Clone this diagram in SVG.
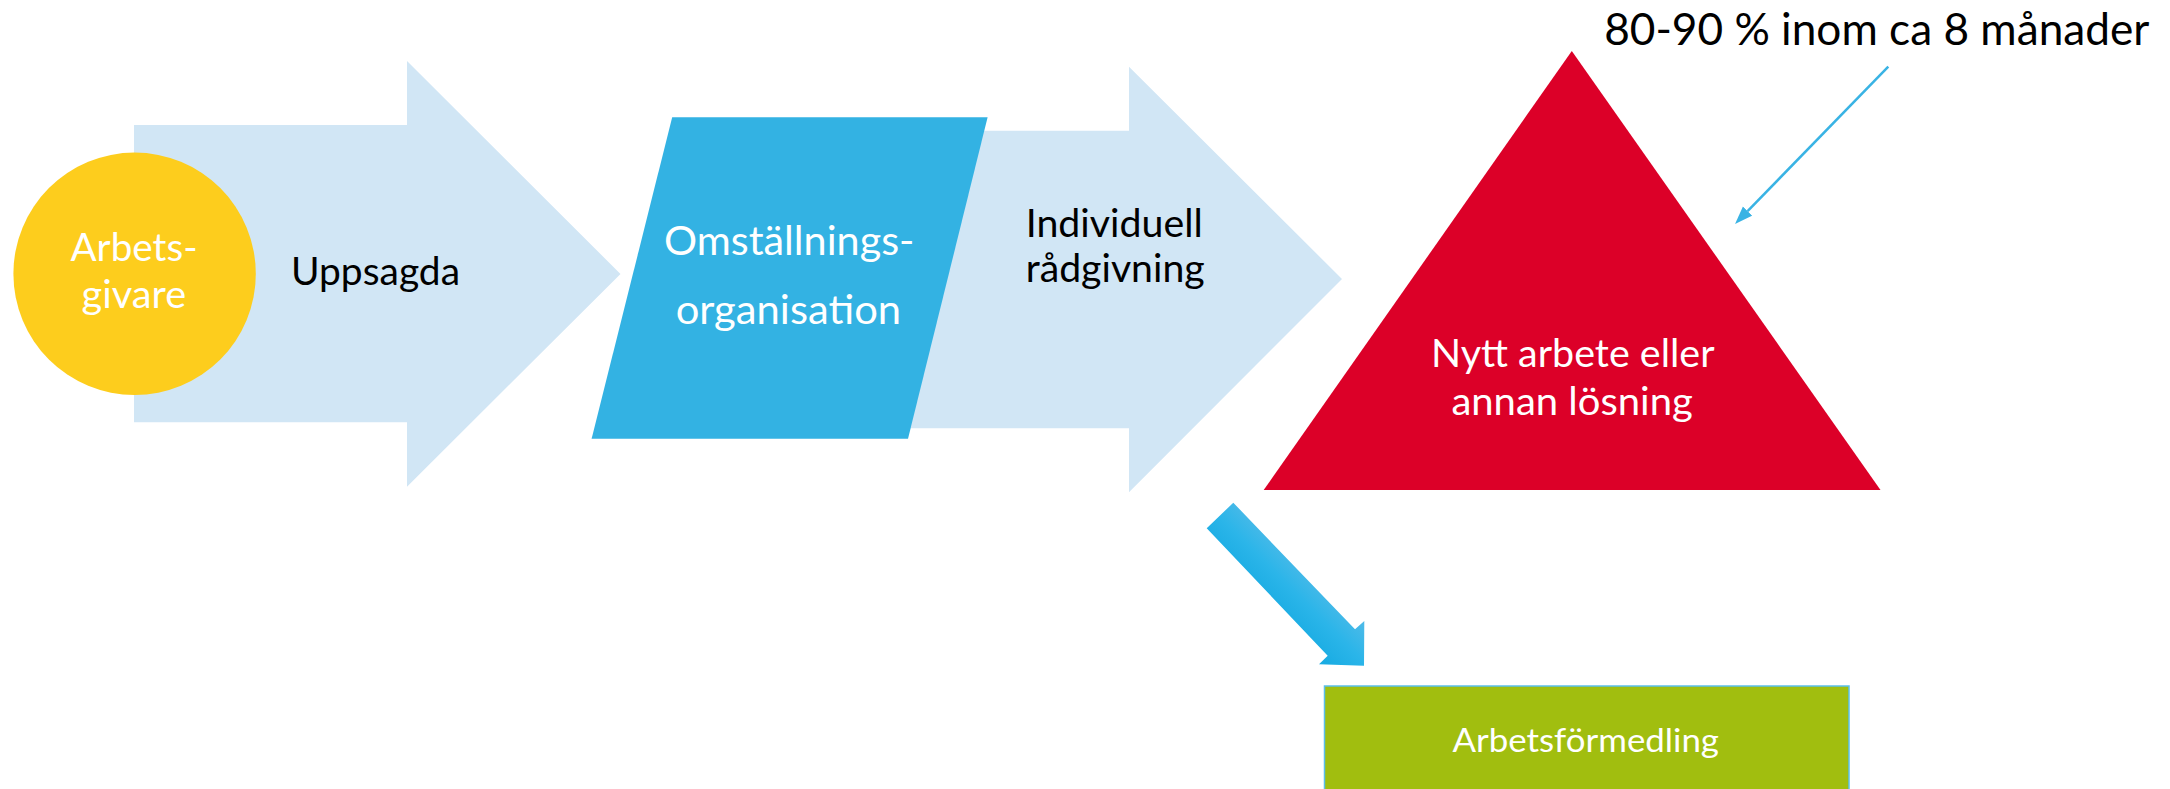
<svg xmlns="http://www.w3.org/2000/svg" width="2170" height="789" viewBox="0 0 2170 789">
<style>
.bigarrow{fill:#D1E6F5;}
.t{font-family:Lato,"Open Sans","Liberation Sans",sans-serif;}
.w{fill:#FFFFFF;}
.k{fill:#000000;}
</style>
<defs>
<linearGradient id="gblue" gradientUnits="userSpaceOnUse" x1="1262" y1="598" x2="1300" y2="560">
<stop offset="0" stop-color="#1AACE3"/>
<stop offset="0.5" stop-color="#2BB5E9"/>
<stop offset="1" stop-color="#4CBAE8"/>
</linearGradient>
<marker id="head" markerUnits="userSpaceOnUse" markerWidth="18" markerHeight="14" refX="0" refY="6.5" orient="auto" viewBox="0 0 18 13">
<path d="M0,0 L18,6.5 L0,13 z" fill="#39B3E4"/>
</marker>
</defs>
<rect width="2170" height="789" fill="#FFFFFF"/>

<g id="arrow-uppsagda">
<polygon class="bigarrow" points="134,125 407,125 407,61 620.5,274 407,486.7 407,422.3 134,422.3"/>
<text class="t k" x="291" y="285" font-size="38" textLength="169" lengthAdjust="spacingAndGlyphs">Uppsagda</text>
</g>

<g id="arbetsgivare">
<circle cx="134.6" cy="273.8" r="121.2" fill="#FDCD1D"/>
<text class="t w" x="70.5" y="261" font-size="38" textLength="127" lengthAdjust="spacingAndGlyphs">Arbets-</text>
<text class="t w" x="81.6" y="308.3" font-size="38" textLength="104.5" lengthAdjust="spacingAndGlyphs">givare</text>
</g>

<g id="arrow-radgivning">
<polygon class="bigarrow" points="880,130.7 1129,130.7 1129,66.7 1342,279 1129,492.3 1129,428.3 880,428.3"/>
<text class="t k" x="1025.7" y="236.7" font-size="38" textLength="177" lengthAdjust="spacingAndGlyphs">Individuell</text>
<text class="t k" x="1025.7" y="282.3" font-size="38" textLength="179" lengthAdjust="spacingAndGlyphs">rådgivning</text>
</g>

<g id="omstallningsorganisation">
<polygon points="672.2,117.3 987.6,117.3 908,438.7 591.6,438.7" fill="#33B2E3"/>
<text class="t w" x="664" y="255" font-size="40" textLength="250.5" lengthAdjust="spacingAndGlyphs">Omställnings-</text>
<text class="t w" x="675.7" y="324" font-size="40" textLength="225.5" lengthAdjust="spacingAndGlyphs">organisation</text>
</g>

<g id="nytt-arbete">
<polygon points="1571.8,51 1880.5,490 1263.7,490" fill="#DC0028"/>
<text class="t w" x="1431" y="366.7" font-size="38" textLength="283.5" lengthAdjust="spacingAndGlyphs">Nytt arbete eller</text>
<text class="t w" x="1451.4" y="415" font-size="38" textLength="241.4" lengthAdjust="spacingAndGlyphs">annan lösning</text>
</g>

<g id="label-andel">
<text class="t k" x="1604.2" y="45" font-size="43.5" textLength="545.2" lengthAdjust="spacingAndGlyphs">80-90 % inom ca 8 månader</text>
</g>

<g id="arbetsformedling">
<rect x="1324.5" y="686" width="524.5" height="120" fill="#A1BE0F" stroke="#5BC0EB" stroke-width="1.5"/>
<text class="t w" x="1452.5" y="751.7" font-size="33.5" textLength="266.5" lengthAdjust="spacingAndGlyphs">Arbetsförmedling</text>
</g>

<g id="connectors">
<line x1="1888.3" y1="66.7" x2="1747.6" y2="211.1" stroke="#39B3E4" stroke-width="2.5" marker-end="url(#head)"/>
<polygon points="1206.7,528.3 1233.3,502.7 1355,629.3 1364.3,621 1364,665.7 1319,664.3 1327.7,655.7" fill="url(#gblue)"/>
</g>
</svg>
